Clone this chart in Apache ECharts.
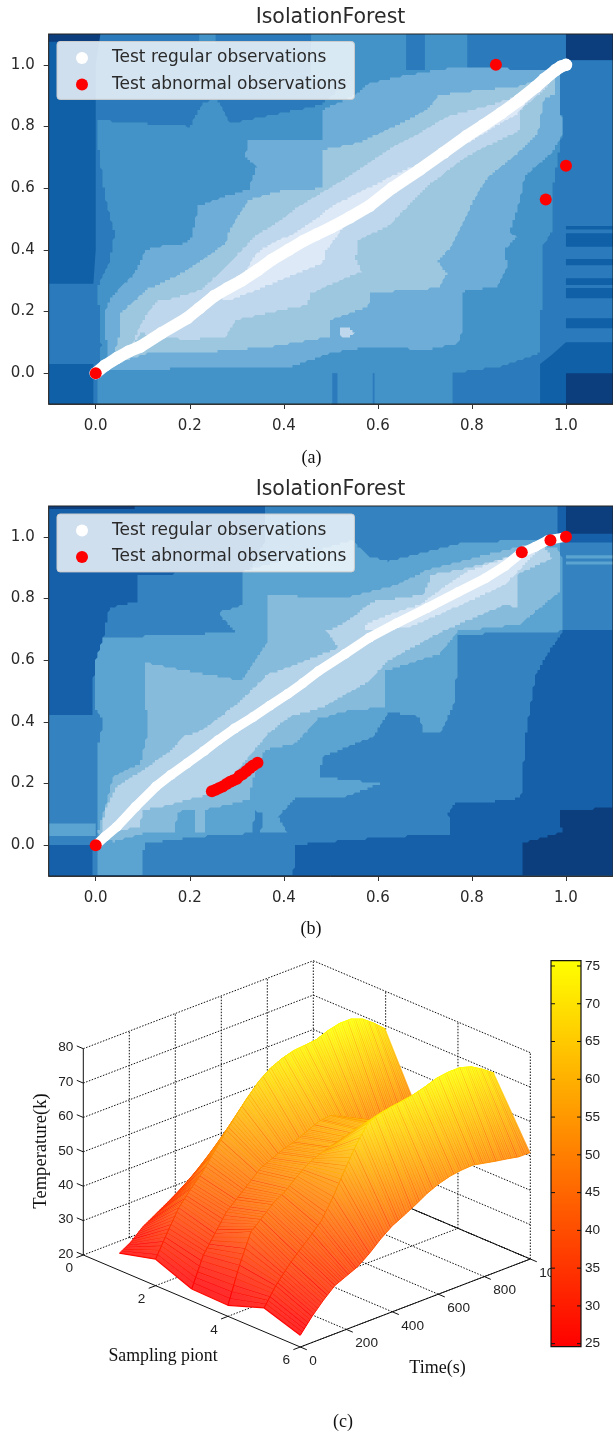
<!DOCTYPE html>
<html><head><meta charset="utf-8">
<style>html,body{margin:0;padding:0;background:#fff;overflow:hidden}#c{width:613px;height:1434px}</style>
<script src="https://cdn.jsdelivr.net/npm/echarts@6/dist/echarts.min.js"></script>
</head><body><div id="c"></div>
<script>
// ---------- contour panels: tick values ----------
const contourTicks = [0, 0.2, 0.4, 0.6, 0.8, 1.0];
// ---------- scatter readings ----------
const regularA = [[0,0],[.02,.025],[.045,.049],[.07,.07],[.095,.086],[.14,.13],[.194,.178],[.22,.21],[.252,.25],[.28,.275],[.31,.30],[.345,.335],[.375,.368],[.41,.40],[.441,.428],[.47,.45],[.5,.472],[.54,.505],[.582,.542],[.63,.60],[.689,.66],[.74,.715],[.788,.768],[.825,.805],[.862,.843],[.90,.885],[.936,.929],[.955,.955],[.978,.983],[.99,.995],[1,1]];
const abnormalA = [[0,0],[.851,1.0],[.957,.563],[1.0,.673]];
const regularB = [[0,0],[.02,.028],[.045,.06],[.085,.125],[.128,.19],[.16,.228],[.194,.265],[.23,.305],[.26,.34],[.295,.378],[.334,.415],[.37,.452],[.408,.49],[.44,.525],[.474,.565],[.53,.62],[.582,.673],[.64,.72],[.705,.769],[.77,.82],[.829,.866],[.87,.905],[.903,.946],[.935,.968],[.961,.989],[1,1]];
const abnormalB = [[0,0],[.906,.95],[.967,.989],[1,1],[.247,.175],[.255,.18],[.262,.185],[.27,.19],[.278,.198],[.285,.205],[.292,.21],[.30,.215],[.306,.225],[.312,.23],[.32,.24],[.328,.25],[.335,.258],[.344,.267]];
// ---------- contour region outlines (data units) ----------
const colorsA = ['#0c3e7e','#1060a8','#2b7abb','#4493c8','#6dadd8','#9cc7df','#bfd7ec','#dde9f6'];
const colorsB = ['#0c3e7e','#1660aa','#3482bf','#5ba3d0','#87bbdb','#b5d3e9','#d6e6f4'];
const rectAll = [[-.1,-.1],[1.1,-.1],[1.1,1.1],[-.1,1.1]];
const aDark1 = [[1,1.015],[1.1,1.015],[1.1,1.1],[1,1.1]];
const aDark2 = [[1,-.1],[1.1,-.1],[1.1,0],[1,0]];
const aDark3 = [[-.1,1.075],[.01,1.075],[.01,1.1],[-.1,1.1]];
const aL2 = [[.01,1.1],[1,1.1],[1,1.015],[1.1,1.015],[1.1,.1],[1,.1],[.97,.06],[.945,.03],[.945,-.1],[-.005,-.1],[-.005,.03],[-.1,.03],[-.1,.29],[-.005,.29],[0,.4],[0,.8],[0,1]];
const aStripes = [[.477,.466],[.454,.41],[.37,.35],[.308,.286],[.276,.243],[.178,.146]];
const aL3 = [[.004,-.1],[.004,0],[.012,.09],[.004,.281],[.029,.357],[.04,.454],[.02,.57],[.004,.75],[.004,.82],[.1,.81],[.2,.8],[.23,.88],[.26,.885],[.285,.81],[.32,.82],[.48,.87],[.54,.95],[.62,.985],[.985,.985],[.992,.778],[.974,.617],[.97,.456],[.953,.42],[.949,.357],[.949,.249],[.945,.14],[.945,.065],[.862,.022],[.759,0],[.759,-.1]];
const aTab1 = [[.458,.95],[.66,.95],[.66,1.1],[.458,1.1]];
const aTab2 = [[.70,.95],[.79,.95],[.79,1.1],[.70,1.1]];
const aL3Top = [[.22,1.07],[.255,1.07],[.255,1.1],[.22,1.1]];
const aBar1 = [[.503,-.1],[.514,-.1],[.514,0],[.503,0]];
const aBar2 = [[.589,-.1],[.593,-.1],[.593,0],[.589,0]];
const aL4 = [[.03,.01],[.02,.14],[.02,.2],[.03,.24],[.054,.281],[.083,.324],[.107,.40],[.128,.41],[.186,.42],[.202,.434],[.219,.542],[.276,.574],[.326,.596],[.342,.671],[.318,.703],[.326,.757],[.483,.757],[.483,.854],[.545,.897],[.582,.94],[.664,.967],[.747,.988],[.87,.988],[.99,.977],[.986,.886],[.994,.778],[.97,.714],[.912,.639],[.903,.563],[.88,.456],[.895,.443],[.87,.40],[.875,.346],[.854,.281],[.78,.265],[.78,.14],[.77,.097],[.705,.076],[.582,.086],[.5,.065],[.417,.022],[.045,.011]];
const aSpot1 = [[.80,.19],[.84,.19],[.84,.238],[.80,.238]];
const aL5 = [[.037,.054],[.054,.14],[.054,.195],[.107,.27],[.169,.313],[.227,.368],[.276,.42],[.285,.467],[.326,.563],[.39,.59],[.483,.60],[.483,.725],[.557,.746],[.648,.81],[.705,.854],[.73,.902],[.82,.918],[.895,.929],[.953,.956],[.978,.967],[.978,.908],[.953,.886],[.94,.778],[.895,.71],[.837,.639],[.804,.563],[.771,.456],[.771,.454],[.755,.41],[.726,.362],[.747,.324],[.73,.276],[.582,.26],[.58,.216],[.5,.173],[.5,.119],[.375,.086],[.21,.065],[.111,.065],[.045,.032]];
const aSpot2 = [[.52,.12],[.535,.112],[.55,.13],[.54,.15],[.52,.15]];
const aL6 = [[.078,.09],[.09,.14],[.115,.205],[.128,.232],[.16,.24],[.225,.27],[.285,.357],[.342,.449],[.375,.477],[.433,.542],[.54,.639],[.631,.735],[.689,.778],[.747,.832],[.829,.865],[.895,.897],[.949,.95],[.97,.95],[.953,.918],[.903,.854],[.903,.789],[.788,.703],[.705,.606],[.623,.477],[.557,.432],[.553,.368],[.565,.33],[.458,.26],[.45,.222],[.30,.173],[.276,.119],[.194,.108],[.095,.13]];
const aL7 = [[.25,.245],[.30,.285],[.342,.39],[.375,.42],[.425,.456],[.516,.553],[.631,.639],[.722,.703],[.87,.865],[.949,.95],[.945,.93],[.895,.84],[.76,.72],[.62,.6],[.54,.50],[.491,.40],[.483,.357],[.342,.27],[.285,.238]];
const bDark1 = [[1,1.01],[1.1,1.01],[1.1,1.1],[1,1.1]];
const bDark2 = [[.908,-.1],[1.1,-.1],[1.1,.12],[.99,.115],[.985,.07],[.995,.045],[.908,.006]];
const bDark3 = [[-.1,1.09],[.083,1.09],[.083,1.1],[-.1,1.1]];
const bL2 = [[.359,1.1],[.98,1.1],[.98,1.01],[1,1.01],[1,.98],[1.1,.98],[1.1,.694],[.994,.694],[.965,.63],[.936,.555],[.924,.447],[.912,.33],[.908,.2],[.903,.152],[.87,.147],[.82,.136],[.763,.136],[.75,.104],[.755,.033],[.64,.028],[.54,.017],[.425,.001],[.42,-.1],[-.005,-.1],[-.005,0],[-.1,0],[-.1,.42],[-.005,.42],[-.004,.58],[.016,.672],[.029,.77],[.087,.79],[.087,.877],[.326,.887],[.359,.984]];
const bL3 = [[.004,.006],[.004,.31],[.016,.405],[-.004,.447],[-.004,.58],[.016,.672],[.3,.69],[.28,.72],[.26,.755],[.31,.777],[.31,.887],[.545,.989],[.582,.936],[.623,.92],[.705,.952],[.788,.984],[.986,.989],[.994,.877],[.99,.694],[.77,.683],[.765,.47],[.733,.362],[.697,.362],[.689,.416],[.623,.432],[.59,.352],[.483,.287],[.475,.222],[.606,.2],[.532,.157],[.425,.152],[.388,.093],[.408,.039],[.351,.039],[.355,.1],[.338,.114],[.334,.039],[.227,.028],[.103,.006],[.099,-.1],[.004,-.1]];
const bBandL = [[-.1,.03],[0,.03],[0,.07],[-.1,.07]];
const bBandR1 = [[1,.94],[1.1,.94],[1.1,.93],[1,.93]];
const bBandR2 = [[1,.92],[1.1,.92],[1.1,.91],[1,.91]];
const bL4 = [[.004,.039],[.037,.011],[.103,.039],[.169,.039],[.173,.109],[.21,.114],[.21,.039],[.231,.039],[.231,.114],[.326,.147],[.334,.211],[.359,.309],[.425,.33],[.474,.411],[.545,.438],[.615,.447],[.615,.565],[.73,.619],[.771,.694],[.903,.716],[.987,.823],[.986,.952],[.978,.968],[.912,.973],[.705,.893],[.64,.844],[.524,.8],[.367,.812],[.367,.662],[.31,.533],[.103,.592],[.107,.447],[.111,.373],[.095,.265],[.037,.222],[.02,.125]];
const bL5 = [[.012,.039],[.02,.114],[.045,.19],[.111,.255],[.161,.309],[.186,.352],[.227,.373],[.31,.47],[.367,.555],[.408,.576],[.516,.64],[.49,.694],[.524,.716],[.59,.79],[.697,.812],[.714,.877],[.788,.898],[.895,.94],[.953,.973],[.97,.93],[.895,.877],[.895,.769],[.87,.78],[.738,.694],[.623,.6],[.582,.533],[.483,.447],[.412,.416],[.367,.362],[.26,.168],[.219,.157],[.144,.125],[.099,.114],[.095,.06]];
const bL6 = [[.573,.716],[.623,.748],[.689,.78],[.788,.887],[.87,.93],[.945,.962],[.87,.844],[.747,.759],[.664,.705],[.573,.694]];
// each layer: outline, colour level, rough contour edge or straight box edge
const layersA = [[rectAll,1,0],[aDark1,0,0],[aDark2,0,0],[aDark3,0,0],[aL2,2,0],
  ...aStripes.map(r=>[[[1,r[1]],[1.1,r[1]],[1.1,r[0]],[1,r[0]]],1,0]),
  [aL3,3,1],[aTab1,3,0],[aTab2,3,0],[aL3Top,3,0],[aBar1,2,0],[aBar2,2,0],[aL4,4,1],[aSpot1,3,1],[aL5,5,1],[aSpot2,6,1],[aL6,6,1],[aL7,7,1]];
const layersB = [[rectAll,1,0],[bDark1,0,0],[bDark2,0,1],[bDark3,0,0],[bL2,2,1],[bL3,3,1],[bBandL,3,0],[bBandR1,3,0],[bBandR2,3,0],[bL4,4,1],[bL5,5,1],[bL6,6,1]];

// ---------- 3D surface: temperature per sampling point (rows) and time (columns) ----------
const timeValues = [0,50,100,150,200,250,300,350,400,450,500,550,600,650,700,750,800,850,900,950,1000];
const samplingPoints = [1,2,3,4,5,6];
const tempS1 = [25,27,30,32,34,36,38,40,43,46,48,50,52,54,56,57,58,58,58,57,56];
const tempS2 = [27.7,34,40,44,47.5,52,56.5,60.5,64.5,68,70.5,72,73,73.3,73.7,75,75.8,75.8,74.5,72,69];
const tempS3 = [23.5,32,37,42,45,48,51,52.5,54,55,56.5,58,58.5,57,55,53,51.5,50,48.5,47.5,47];
const tempS4 = [23.2,33.5,42,45,48,50,53,55.5,57,58,59,60,60.5,60,59,58,56,54,53,52,51];
const tempS5 = [26.9,32,36,39.5,42.5,46,51.5,58,64,69,70.5,71.2,71.7,72.3,73.3,74.5,75,75,74,72,69.6];
const tempS6 = [23.4,27.5,31,34,35.5,37,39.5,42.5,45,46.7,48.5,50.5,52,53,53.5,53.7,53,52.3,51.7,51,51];
const tempTable = [tempS1,tempS2,tempS3,tempS4,tempS5,tempS6];
const zTicks = [20,30,40,50,60,70,80];
const sTicks = [0,2,4,6];
const tTicks = [0,200,400,600,800,1000];
const barTicks = [25,30,35,40,45,50,55,60,65,70,75];
const meshShade = [0,-4,2,-1,-9,1,3,-3,-6,0,-2];

const textCol = '#2a2a2a';
function proj(s,t,z){
  return [ s/6*217/447 + t/1000*230/447,
           (92 - 92*s/6 + 88*t/1000 + 206.3*(z-20)/60)/387 ];
}
function heat(z,w){ const f=Math.max(0,Math.min(1,(z-24.6)/51.1)); w=w||0;
  return 'rgb(255,'+Math.round(255*f+(255-255*f)*w)+','+Math.round(255*w)+')'; }
const surfItems=[];
for(let i=0;i<5;i++) for(let j=timeValues.length-2;j>=0;j--) surfItems.push([i,j]);
function renderSurface(params,api){
  const it=surfItems[params.dataIndex], i=it[0], j=it[1], s0=samplingPoints[i], s1=samplingPoints[i+1];
  const c=(p)=>api.coord(p), kids=[], n=6;
  const LG=echarts.graphic.LinearGradient;
  for(let k=n-1;k>=0;k--){
    const f=k/n, g=(k+1)/n, dt=timeValues[j+1]-timeValues[j];
    const t0=timeValues[j]+f*dt, t1=timeValues[j]+g*dt;
    const a0=tempTable[i][j], a1=tempTable[i][j+1], b0=tempTable[i+1][j], b1=tempTable[i+1][j+1];
    const za=a0+f*(a1-a0), zb=b0+f*(b1-b0), zc=b0+g*(b1-b0), zd=a0+g*(a1-a0);
    const A=c(proj(s0,t0,za)),B=c(proj(s1,t0,zb)),C=c(proj(s1,t1,zc)),D=c(proj(s0,t1,zd));
    const sh=meshShade[(j*n+k+i*3)%meshShade.length];
    kids.push({type:'polygon',shape:{points:[A,B,C,D]},style:{
      fill:new LG(A[0],A[1],B[0]+.01,B[1]+.01,[{offset:0,color:heat(za,.17)},{offset:1,color:heat(zb,.17)}],true),
      stroke:null}});
    kids.push({type:'line',shape:{x1:A[0],y1:A[1],x2:B[0],y2:B[1]},style:{lineWidth:1.15,fill:null,
      stroke:new LG(A[0],A[1],B[0]+.01,B[1]+.01,[{offset:0,color:heat(za+sh)},{offset:1,color:heat(zb+sh)}],true)}});
    kids.push({type:'line',shape:{x1:A[0],y1:A[1],x2:D[0],y2:D[1]},style:{lineWidth:1,stroke:heat(za)}});
    kids.push({type:'line',shape:{x1:B[0],y1:B[1],x2:C[0],y2:C[1]},style:{lineWidth:1,stroke:heat(zb)}});
  }
  return {type:'group',children:kids};
}
const segs=[];
const dots=(a,b)=>segs.push([a,b,1]), solid=(a,b)=>segs.push([a,b,0]);
zTicks.forEach(z=>{dots([0,0,z],[0,1000,z]);dots([0,1000,z],[6,1000,z]);solid([0,0,z],[-.18,0,z]);});
tTicks.forEach(t=>{ if(t>0){dots([0,t,20],[0,t,80]);dots([0,t,20],[6,t,20]);} solid([6,t,20],[6.18,t,20]); });
sTicks.forEach(s=>{ if(s>0){dots([s,1000,20],[s,1000,80]);dots([s,0,20],[s,1000,20]);} solid([s,0,20],[s,-30,20]); });
solid([0,0,20],[0,0,80]); solid([0,0,20],[6,0,20]); solid([6,0,20],[6,1000,20]); solid([0,1000,20],[6,1000,20]);
function renderSeg(params,api){
  const q=segs[params.dataIndex], A=api.coord(proj(...q[0])), B=api.coord(proj(...q[1]));
  return {type:'line',shape:{x1:A[0],y1:A[1],x2:B[0],y2:B[1]},
    style:{stroke:'#111',lineWidth:1,lineDash:q[2]?[1.5,1.5]:null}};
}
const lab3d=[];
zTicks.forEach(z=>lab3d.push([[0,0,z],String(z),-10,-1,'right']));
sTicks.forEach(s=>lab3d.push([[s,0,20],String(s),-14,13.5,'center']));
tTicks.forEach(t=>lab3d.push([[6,t,20],String(t),9,14,'left']));
function renderLab(params,api){
  const q=lab3d[params.dataIndex], A=api.coord(proj(...q[0]));
  return {type:'text',x:A[0]+q[2],y:A[1]+q[3],style:{text:q[1],font:'13.6px "Liberation Sans"',fill:'#222',align:q[4],verticalAlign:'middle'}};
}
// rough contour edge: the outline follows the decision function's sampling lattice
function roughen(pts,cell){
  const out=[];
  for(let i=0;i<pts.length;i++){
    const a=pts[i], b=pts[(i+1)%pts.length], d=Math.hypot(b[0]-a[0],b[1]-a[1]), n=Math.max(1,Math.ceil(d/1.5));
    for(let k=0;k<n;k++){
      const x=Math.round((a[0]+(b[0]-a[0])*k/n)/cell)*cell, y=Math.round((a[1]+(b[1]-a[1])*k/n)/cell)*cell;
      const l=out[out.length-1];
      if(!l||l[0]!==x||l[1]!==y) out.push([x,y]);
    }
  }
  return out;
}
function layerRenderer(layers,colors){
  return function(params,api){
    const l=layers[params.dataIndex];
    let pts=l[0].map(p=>api.coord(p));
    if(l[2]) pts=roughen(pts,2.5);
    return {type:'polygon',shape:{points:pts},style:{fill:colors[l[1]]}};
  };
}
function frame(params,api){
  const a=api.coord([-.1,-.1]), b=api.coord([1.1,1.1]);
  return {type:'rect',shape:{x:a[0],y:b[1],width:b[0]-a[0],height:a[1]-b[1]},style:{fill:null,stroke:'#222',lineWidth:1}};
}
const idx=(arr)=>arr.map((_,i)=>[i,0]);
function panelAxes(g){
  const base={type:'value',gridIndex:g,min:-.1,max:1.1,z:6,axisLine:{show:true,onZero:false,lineStyle:{color:'#333'}},
       axisTick:{show:true,customValues:contourTicks,length:5,lineStyle:{color:'#333'}},splitLine:{show:false}};
  return {
    x:{...base,axisLabel:{customValues:contourTicks,formatter:v=>v.toFixed(1),margin:15,fontFamily:'DejaVu Sans',fontSize:15,color:textCol}},
    y:{...base,axisLabel:{customValues:contourTicks,formatter:v=>v.toFixed(1),margin:14,fontFamily:'DejaVu Sans',fontSize:15,color:textCol}}
  };
}
const pa=panelAxes(0), pb=panelAxes(1);
function panelSeries(g,layers,colors,reg,abn,bw){
  return [
    {type:'custom',name:'contours',xAxisIndex:g,yAxisIndex:g,z:1,silent:true,data:idx(layers),encode:{x:0,y:1},clip:true,renderItem:layerRenderer(layers,colors),animation:false},
    {type:'line',name:'regular band',xAxisIndex:g,yAxisIndex:g,z:2,data:reg,symbol:'none',silent:true,lineStyle:{color:'#fff',width:bw,cap:'round',join:'round'},animation:false},
    {type:'scatter',name:'Test regular observations',xAxisIndex:g,yAxisIndex:g,z:3,data:reg,symbol:'circle',symbolSize:bw+.5,itemStyle:{color:'#fff',opacity:1},silent:true,animation:false},
    {type:'scatter',name:'Test abnormal observations',xAxisIndex:g,yAxisIndex:g,z:4,data:abn,symbol:'circle',symbolSize:12,itemStyle:{color:'#ff0000',opacity:1},silent:true,animation:false},
    {type:'custom',name:'frame',xAxisIndex:g,yAxisIndex:g,z:5,silent:true,data:[[0,0]],encode:{x:0,y:1},clip:false,renderItem:frame,animation:false}
  ];
}
function legendAt(top){
  return {show:true,left:57,top:top,orient:'vertical',z:10,icon:'circle',itemWidth:26,itemHeight:12,itemGap:9.4,
    padding:[8,8,6.5,19],backgroundColor:'rgba(255,255,255,0.8)',borderColor:'#ccc',borderWidth:1,borderRadius:3,
    selectedMode:false,
    textStyle:{fontFamily:'DejaVu Sans',fontSize:17,color:textCol,padding:[0,0,0,12]},
    data:['Test regular observations','Test abnormal observations']};
}
const capt=(text,left,top,size,col,font)=>({text,left,top,padding:0,textAlign:'center',textStyle:{fontFamily:font,fontSize:size,fontWeight:'normal',color:col}});
const option={
  animation:false,backgroundColor:'#fff',
  title:[
    capt('IsolationForest',330.5,7,20.5,textCol,'DejaVu Sans'),
    capt('IsolationForest',330.5,479,20.5,textCol,'DejaVu Sans'),
    capt('(a)',311.5,449,18,'#111','Liberation Serif'),
    capt('(b)',311,920,18,'#111','Liberation Serif'),
    capt('(c)',343,1413,18,'#111','Liberation Serif'),
    capt('Sampling piont',163,1347,17.8,'#111','Liberation Serif'),
    capt('Time(s)',437.5,1359,18,'#111','Liberation Serif')
  ],
  graphic:[{type:'text',x:41.5,y:1151,rotation:Math.PI/2,z:5,style:{text:'Temperature(k)',font:'18.6px "Liberation Serif"',fill:'#111',align:'center',verticalAlign:'middle'}}],
  legend:[legendAt(41.5),legendAt(514)],
  grid:[
    {left:48.7,top:34,width:567.6,height:370},
    {left:48.7,top:506,width:567.6,height:370},
    {left:551,top:960.7,width:30,height:386},
    {left:83.3,top:960,width:447,height:387}
  ],
  xAxis:[pa.x,pb.x,
    {type:'value',gridIndex:2,min:0,max:1,show:false},
    {type:'value',gridIndex:3,min:0,max:1,show:false}],
  yAxis:[pa.y,pb.y,
    {type:'value',gridIndex:2,min:24.6,max:75.7,position:'right',z:12,axisLine:{show:false,onZero:false},splitLine:{show:false},
      axisTick:{show:false},
      axisLabel:{customValues:barTicks,margin:4,fontFamily:'Liberation Sans',fontSize:13.6,color:'#222'}},
    {type:'value',gridIndex:3,min:0,max:1,show:false}],
  series:[
    ...panelSeries(0,layersA,colorsA,regularA,abnormalA,12),
    ...panelSeries(1,layersB,colorsB,regularB,abnormalB,9.5),
    {type:'custom',name:'box',xAxisIndex:3,yAxisIndex:3,z:2,silent:true,data:idx(segs),encode:{x:0,y:1},clip:false,renderItem:renderSeg,animation:false},
    {type:'custom',name:'box labels',xAxisIndex:3,yAxisIndex:3,z:2,silent:true,data:idx(lab3d),encode:{x:0,y:1},clip:false,renderItem:renderLab,animation:false},
    {type:'custom',name:'Temperature surface',xAxisIndex:3,yAxisIndex:3,z:3,silent:true,data:idx(surfItems),encode:{x:0,y:1},clip:false,renderItem:renderSurface,animation:false},
    {type:'custom',name:'colorbar',xAxisIndex:2,yAxisIndex:2,z:10,silent:true,data:[[0,24.6]],encode:{x:0,y:1},clip:false,animation:false,
      renderItem:(params,api)=>{
        const a=api.coord([0,24.6]), b=api.coord([1,75.7]);
        const kids=[{type:'rect',shape:{x:a[0],y:b[1],width:b[0]-a[0],height:a[1]-b[1]},
          style:{stroke:'#111',lineWidth:1.2,fill:new echarts.graphic.LinearGradient(0,1,0,0,[{offset:0,color:'#ff0000'},{offset:1,color:'#ffff00'}])}}];
        barTicks.forEach(v=>{const p=api.coord([0,v]), q=api.coord([1,v]);
          kids.push({type:'line',shape:{x1:p[0],y1:p[1],x2:p[0]+4,y2:p[1]},style:{stroke:'#111',lineWidth:1}});
          kids.push({type:'line',shape:{x1:q[0]-4,y1:q[1],x2:q[0],y2:q[1]},style:{stroke:'#111',lineWidth:1}});});
        return {type:'group',children:kids};
      }}
  ]
};
const chart=echarts.init(document.getElementById('c'),null,{renderer:'canvas',width:613,height:1434});
chart.setOption(option);
</script>
</body></html>
